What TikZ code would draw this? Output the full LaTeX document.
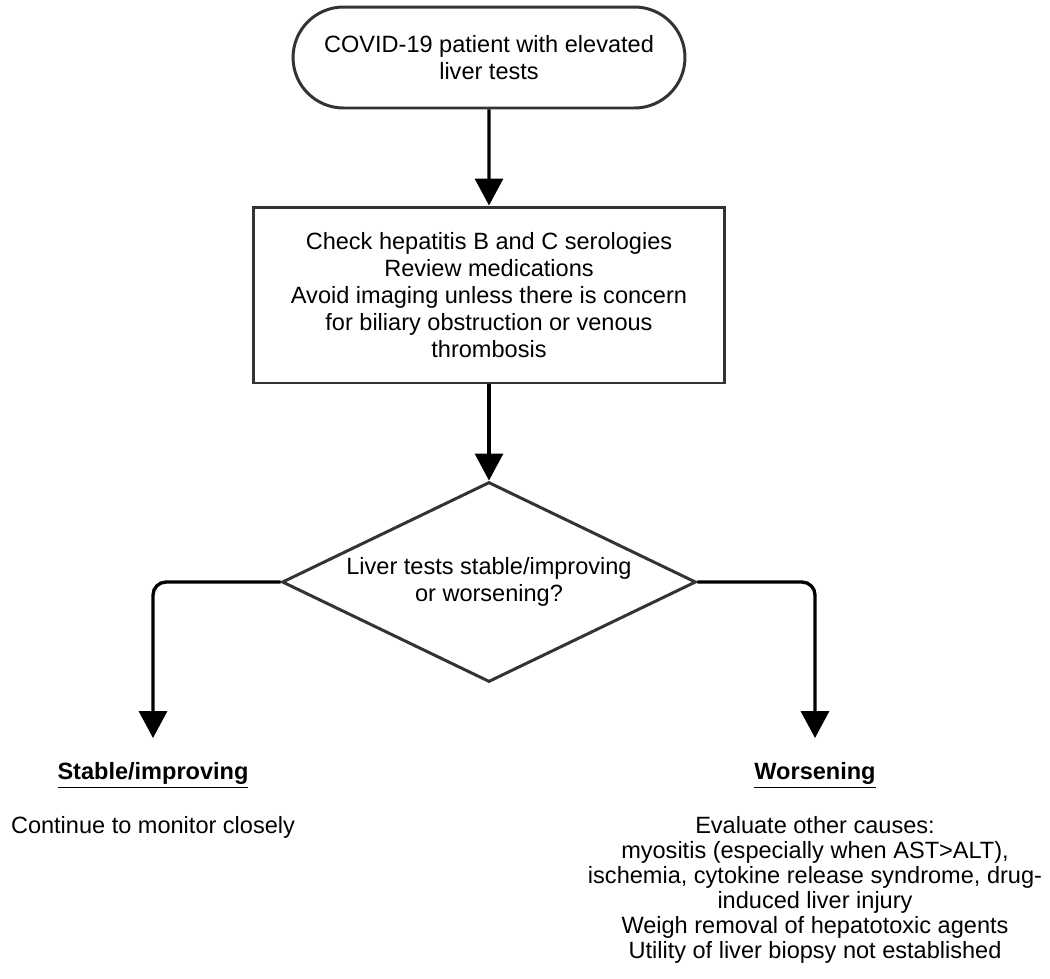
\documentclass[tikz,border=0pt]{standalone}
\usepackage{fontspec}
\setmainfont{Liberation Sans}
\usetikzlibrary{shapes.geometric, shapes.misc, positioning, arrows.meta}

\begin{document}
\begin{tikzpicture}[
    x=0.02cm,
    y=-0.02cm,
    every node/.style={
        font=\fontsize{13.4pt}{15.3pt}\selectfont
    },
    terminal/.style={
        rounded rectangle,
        draw=black!80,
        line width=1.7pt,
        align=center,
        minimum width=7.84cm,
        minimum height=2.02cm,
        inner sep=0pt
    },
    process/.style={
        rectangle,
        draw=black!80,
        line width=1.7pt,
        align=center,
        minimum width=9.42cm,
        minimum height=3.52cm,
        inner sep=0pt
    },
    decision/.style={
        diamond,
        draw=black!80,
        line width=1.7pt,
        align=center,
        aspect=2.07,
        minimum width=8.28cm,
        minimum height=4cm,
        inner sep=0pt
    },
    heading/.style={
        font=\fontsize{13.4pt}{15.3pt}\selectfont\bfseries,
        anchor=north,
        inner sep=0pt
    },
    outcome/.style={
        font=\fontsize{13.4pt}{14.2pt}\selectfont,
        align=center,
        inner sep=0pt
    },
    flow/.style={
        -{Triangle[width=0.56cm, length=0.54cm]},
        line width=1.9pt
    },
    branch/.style={
        flow,
        rounded corners=0.26cm,
        shorten >=0.48cm
    }
]

% Page frame
\useasboundingbox (0, 0) rectangle (1050, 978);

% ========== MAIN FLOW ==========

\node[terminal] (start) at (489, 57.5) {COVID-19 patient with elevated\\liver tests};

\node[process] (check) at (489, 295) {Check hepatitis B and C serologies\\Review medications\\Avoid imaging unless there is concern\\for biliary obstruction or venous\\thrombosis};

\node[decision] (decide) at (489, 582) {Liver tests stable/improving\\or worsening?};

% ========== OUTCOMES ==========

\node[heading] (stable) at (153, 762) {\underline{Stable/improving}};
\node[outcome, below=0.56cm of stable] (monitor) {Continue to monitor closely};

\node[heading] (worse) at (815, 762) {\underline{Worsening}};
\node[outcome, below=0.56cm of worse] (evaluate) {Evaluate other causes:\\myositis (especially when AST>ALT),\\ischemia, cytokine release syndrome, drug-\\induced liver injury\\Weigh removal of hepatotoxic agents\\Utility of liver biopsy not established};

% ========== CONNECTIONS ==========

\draw[flow] (start) -- (check);
\draw[flow] (check) -- (decide);

\draw[branch] (decide.west) -| (stable.north);
\draw[branch] (decide.east) -| (worse.north);

\end{tikzpicture}
\end{document}
